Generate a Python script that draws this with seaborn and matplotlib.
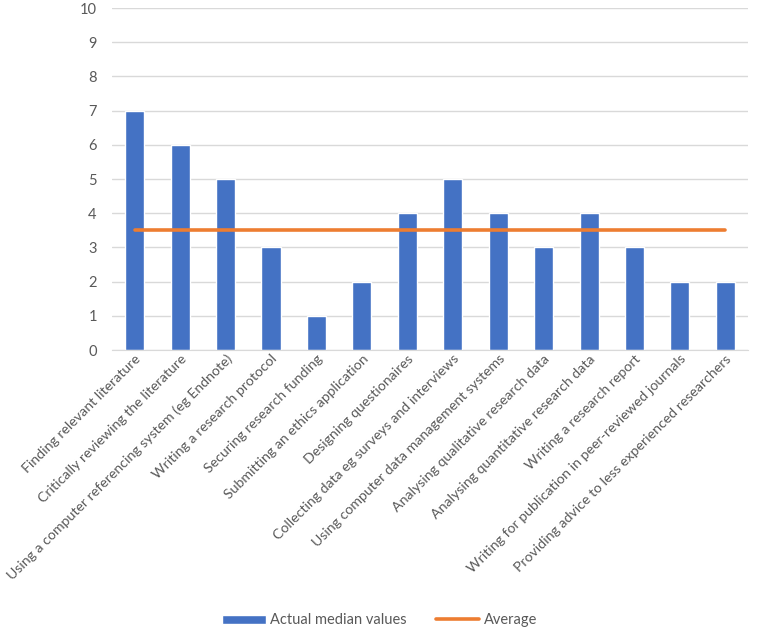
import pandas as pd
import numpy as np
import matplotlib
matplotlib.use("Agg")
import matplotlib.pyplot as plt
import seaborn as sns
from matplotlib.patches import Patch
from matplotlib.lines import Line2D

# data
skills = [
    "Finding relevant literature",
    "Critically reviewing the literature",
    "Using a computer referencing system (eg Endnote)",
    "Writing a research protocol",
    "Securing research funding",
    "Submitting an ethics application",
    "Designing questionaires",
    "Collecting data eg surveys and interviews",
    "Using computer data management systems",
    "Analysing qualitative research data",
    "Analysing quantitative research data",
    "Writing a research report",
    "Writing for publication in peer-reviewed journals",
    "Providing advice to less experienced researchers",
]
median_values = [7, 6, 5, 3, 1, 2, 4, 5, 4, 3, 4, 3, 2, 2]
average_values = [3.5] * len(skills)

df = pd.DataFrame({"skill": skills, "median": median_values, "average": average_values})

sns.set_style("white")
plt.rcParams['font.family'] = ['Lato', 'DejaVu Sans']

bar_color = "#4472C4"
line_color = "#ED7D31"
text_color = "#595959"
fs = 10.2

fig = plt.figure(figsize=(7.59, 6.31), dpi=100)
ax = fig.add_axes([0.1476, 0.4453, 0.838, 0.542])

sns.barplot(data=df, x="skill", y="median", color=bar_color, width=0.42,
            saturation=1, ax=ax, zorder=2)
sns.lineplot(x=np.arange(len(skills)), y=df["average"], color=line_color,
             linewidth=2.6, ax=ax, zorder=3)

ax.set_ylim(0, 10)
ax.set_xlim(-0.5, len(skills) - 0.5)
ax.set_yticks(range(0, 11))
ax.yaxis.grid(True, color="#d9d9d9", linewidth=1, zorder=0)
ax.set_axisbelow(True)
for s in ["top", "right", "left"]:
    ax.spines[s].set_visible(False)
ax.spines["bottom"].set_color("#d9d9d9")
ax.tick_params(axis="both", length=0, colors=text_color, labelsize=10.5)
ax.tick_params(axis="y", pad=11)
ax.tick_params(axis="x", pad=2)
ax.set_xticks(range(len(skills)))
ax.set_xticklabels(skills, rotation=45, ha="right", rotation_mode="anchor",
                   color=text_color, fontsize=fs)
ax.set_xlabel("")
ax.set_ylabel("")

handles = [Patch(facecolor=bar_color, label="Actual median values"),
           Line2D([0], [0], color=line_color, linewidth=2.6, label="Average")]
fig.legend(handles=handles, loc="lower center", bbox_to_anchor=(0.5, -0.015),
           ncol=2, frameon=False, fontsize=10.5, labelcolor=text_color,
           handlelength=3.0, handleheight=0.6, columnspacing=2.0, handletextpad=0.3)

fig.savefig("out.png", dpi=100)
